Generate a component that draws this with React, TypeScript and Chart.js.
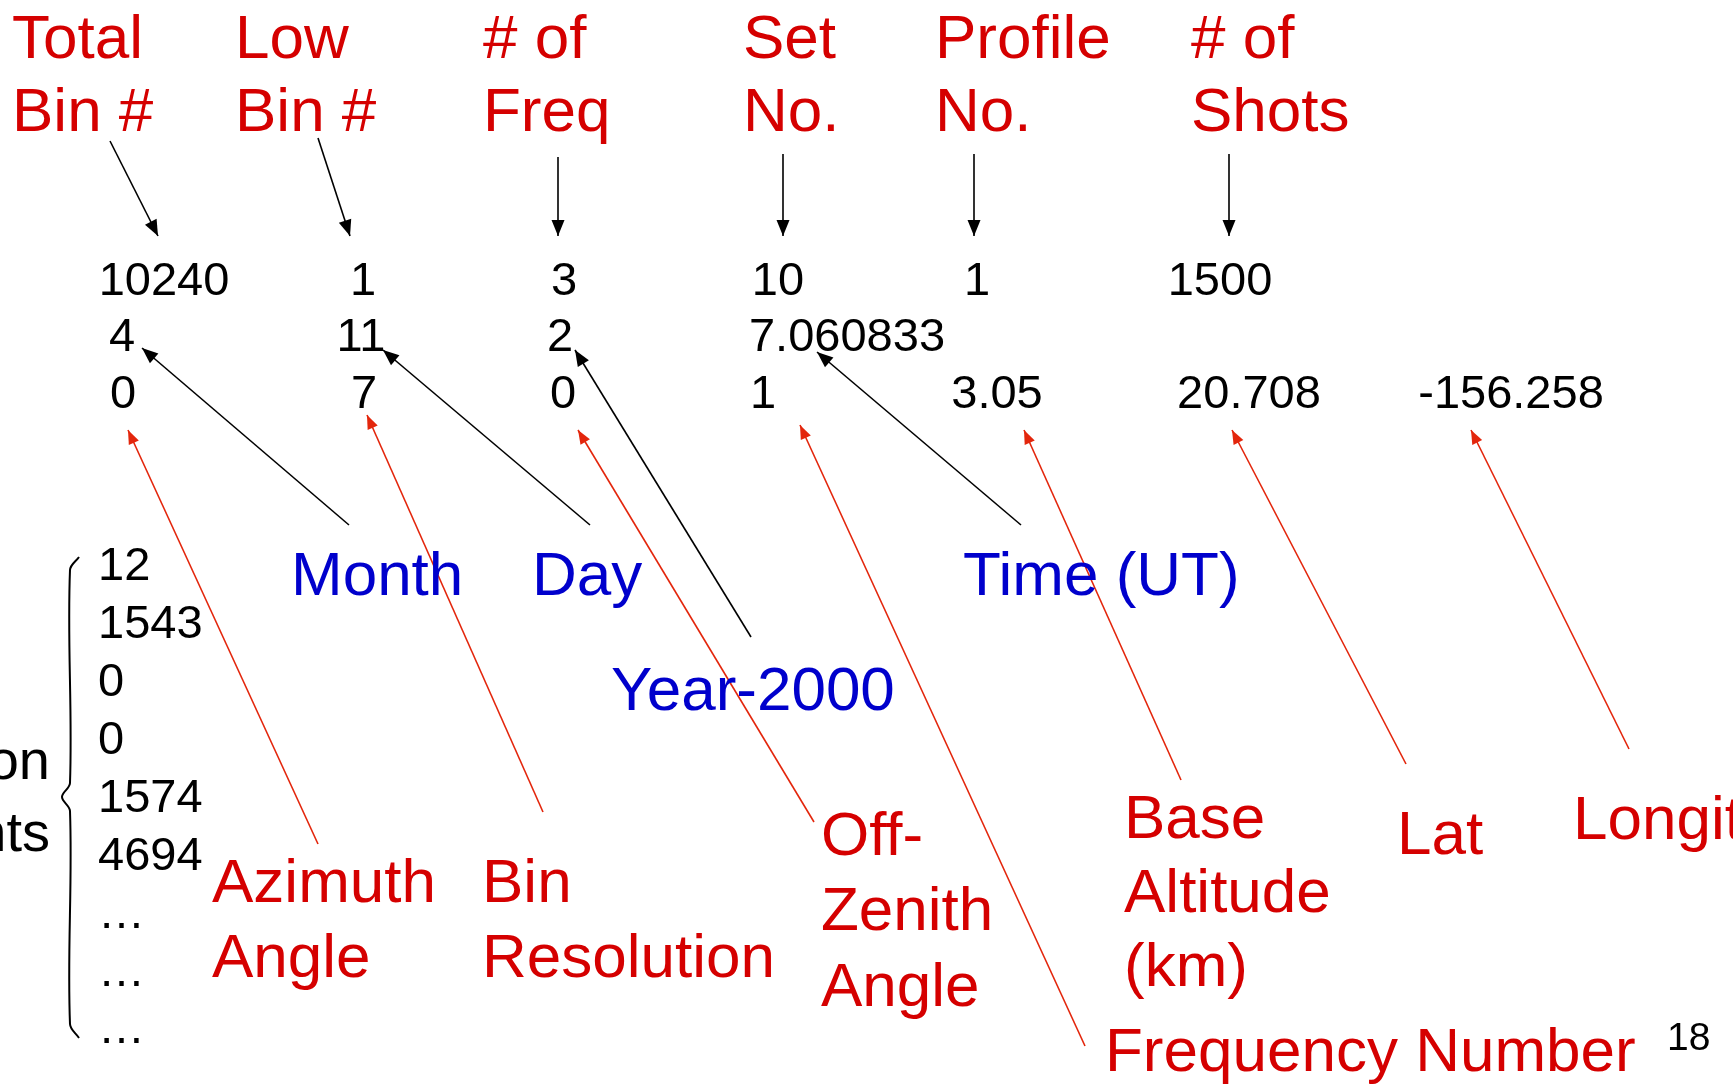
import React, { useEffect, useRef } from "react";
import { Chart, registerables } from "chart.js";

Chart.register(...registerables);

const W = 1733;
const H = 1086;

// ---------- content ----------
const headerLabels = [
  ["Total", "Bin #"],
  ["Low", "Bin #"],
  ["# of", "Freq"],
  ["Set", "No."],
  ["Profile", "No."],
  ["# of", "Shots"],
];
const row1Values = ["10240", "1", "3", "10", "1", "1500"];
const row2Values = ["4", "11", "2", "7.060833"];
const row3Values = ["0", "7", "0", "1", "3.05", "20.708", "-156.258"];
const countValues = ["12", "1543", "0", "0", "1574", "4694", "…", "…", "…"];
const sideLabel = ["Photon", "Counts"];
const blueLabels = ["Month", "Day", "Year-2000", "Time (UT)"];
const redLabels = [
  ["Azimuth", "Angle"],
  ["Bin", "Resolution"],
  ["Off-", "Zenith", "Angle"],
  ["Frequency Number"],
  ["Base", "Altitude", "(km)"],
  ["Lat"],
  ["Longitude"],
];
const pageNumber = "18";

// ---------- layout (slide units) ----------
const headerX = [12, 235, 483, 743, 935, 1191];
const headerBaselines = [58, 131];
const row1X = [164, 363, 564, 778, 977, 1220];
const row2X = [122, 361, 560, 847];
const row3X = [123, 364, 563, 763, 997, 1249, 1511];
const rowBaselines = [295, 351, 408];
const countX = 98;
const countBaselines = [580, 638, 696, 754, 812, 870, 928, 986, 1043];
const sideRightX = 50;
const sideBaselines = [779, 851];
const blueX = [291, 532, 611, 963];
const blueBaseline = [595, 595, 710, 595];
const redX = [212, 482, 821, 1105, 1124, 1397, 1573];
const redBaselines = [
  [902, 977],
  [902, 977],
  [855, 930, 1006],
  [1071],
  [838, 912, 986],
  [854],
  [839],
];
const pageX = 1667;
const pageBaseline = 1050;

// arrows: [fromX, fromY, toX, toY]
const headerArrows = [
  [110, 141, 158, 236],
  [318, 138, 350, 236],
  [558, 157, 558, 236],
  [783, 154, 783, 236],
  [974, 154, 974, 236],
  [1229, 154, 1229, 236],
];
const blueArrows = [
  [349, 525, 142, 348],
  [590, 525, 383, 350],
  [751, 637, 575, 350],
  [1021, 525, 817, 352],
];
const redArrows = [
  [318, 844, 128, 430],
  [543, 812, 367, 415],
  [814, 822, 578, 430],
  [1085, 1046, 800, 425],
  [1181, 780, 1024, 430],
  [1406, 764, 1232, 430],
  [1629, 749, 1471, 430],
];
const bracePoints = [
  [79, 557],
  [70, 570],
  [70, 783],
  [62, 797],
  [70, 811],
  [70, 1024],
  [79, 1038],
];

// ---------- styles ----------
const RED_TEXT = "#D50000";
const BLUE_TEXT = "#0000CC";
const RED_LINE = "#E3260C";
const BLACK = "#000000";
const HAND_FONT = '62px "Comic Sans MS", "Liberation Sans", Arial, sans-serif';
const NUM_FONT = '47px "Liberation Sans", Arial, sans-serif';
const SIDE_FONT = '56px "Liberation Sans", Arial, sans-serif';
const PAGE_FONT = '39px "Liberation Sans", Arial, sans-serif';

type TextItem = {
  text: string;
  x: number;
  y: number;
  font: string;
  color: string;
  align: CanvasTextAlign;
};

function buildTexts(): TextItem[] {
  const items: TextItem[] = [];
  headerLabels.forEach((lines, i) =>
    lines.forEach((t, j) =>
      items.push({ text: t, x: headerX[i], y: headerBaselines[j], font: HAND_FONT, color: RED_TEXT, align: "left" })
    )
  );
  [row1Values, row2Values, row3Values].forEach((row, r) => {
    const xs = [row1X, row2X, row3X][r];
    row.forEach((t, i) =>
      items.push({ text: t, x: xs[i], y: rowBaselines[r], font: NUM_FONT, color: BLACK, align: "center" })
    );
  });
  countValues.forEach((t, i) =>
    items.push({ text: t, x: countX, y: countBaselines[i], font: NUM_FONT, color: BLACK, align: "left" })
  );
  sideLabel.forEach((t, i) =>
    items.push({ text: t, x: sideRightX, y: sideBaselines[i], font: SIDE_FONT, color: BLACK, align: "right" })
  );
  blueLabels.forEach((t, i) =>
    items.push({ text: t, x: blueX[i], y: blueBaseline[i], font: HAND_FONT, color: BLUE_TEXT, align: "left" })
  );
  redLabels.forEach((lines, i) =>
    lines.forEach((t, j) =>
      items.push({ text: t, x: redX[i], y: redBaselines[i][j], font: HAND_FONT, color: RED_TEXT, align: "left" })
    )
  );
  items.push({ text: pageNumber, x: pageX, y: pageBaseline, font: PAGE_FONT, color: BLACK, align: "left" });
  return items;
}

function arrowDataset(a: number[], color: string, head: number[]) {
  return {
    type: "line" as const,
    data: [
      { x: a[0], y: a[1] },
      { x: a[2], y: a[3] },
    ],
    borderColor: color,
    borderWidth: 1.6,
    pointRadius: 0,
    fill: false,
    tension: 0,
    arrowHead: head,
  };
}

const textPlugin = {
  id: "slideText",
  afterDatasetsDraw(chart: any) {
    const ctx = chart.ctx as CanvasRenderingContext2D;
    const xs = chart.scales.x;
    const ys = chart.scales.y;
    // arrowheads
    chart.data.datasets.forEach((ds: any, i: number) => {
      if (!ds.arrowHead) return;
      const meta = chart.getDatasetMeta(i);
      const pts = meta.data;
      if (pts.length < 2) return;
      const p0 = pts[pts.length - 2];
      const p1 = pts[pts.length - 1];
      const ang = Math.atan2(p1.y - p0.y, p1.x - p0.x);
      const [len, half] = ds.arrowHead;
      ctx.save();
      ctx.translate(p1.x, p1.y);
      ctx.rotate(ang);
      ctx.beginPath();
      ctx.moveTo(0, 0);
      ctx.lineTo(-len, -half);
      ctx.lineTo(-len, half);
      ctx.closePath();
      ctx.fillStyle = ds.borderColor;
      ctx.fill();
      ctx.restore();
    });
    // texts
    const items = buildTexts();
    ctx.save();
    ctx.textBaseline = "alphabetic";
    items.forEach((it) => {
      ctx.font = it.font;
      ctx.fillStyle = it.color;
      ctx.textAlign = it.align;
      ctx.fillText(it.text, xs.getPixelForValue(it.x), ys.getPixelForValue(it.y));
    });
    ctx.restore();
  },
};

export default function App() {
  const ref = useRef<HTMLCanvasElement | null>(null);

  useEffect(() => {
    document.body.style.margin = "0";
    document.body.style.background = "#ffffff";
    const canvas = ref.current;
    if (!canvas) return;
    const datasets: any[] = [
      ...headerArrows.map((a) => arrowDataset(a, BLACK, [16, 6.5])),
      ...blueArrows.map((a) => arrowDataset(a, BLACK, [16, 6.5])),
      ...redArrows.map((a) => arrowDataset(a, RED_LINE, [14, 5.5])),
      {
        type: "line",
        data: bracePoints.map((p) => ({ x: p[0], y: p[1] })),
        borderColor: BLACK,
        borderWidth: 2,
        pointRadius: 0,
        fill: false,
        tension: 0.35,
      },
    ];
    const chart = new Chart(canvas, {
      type: "scatter",
      data: { datasets },
      options: {
        animation: false,
        responsive: false,
        devicePixelRatio: 1,
        layout: { padding: 0 },
        events: [],
        plugins: { legend: { display: false }, tooltip: { enabled: false } },
        scales: {
          x: { type: "linear", min: 0, max: W, display: false },
          y: { type: "linear", min: 0, max: H, reverse: true, display: false },
        },
      },
      plugins: [textPlugin],
    } as any);
    return () => chart.destroy();
  }, []);

  return (
    <div style={{ position: "fixed", left: 0, top: 0, width: W, height: H, background: "#fff" }}>
      <canvas ref={ref} width={W} height={H} style={{ display: "block", width: W, height: H }} />
    </div>
  );
}
